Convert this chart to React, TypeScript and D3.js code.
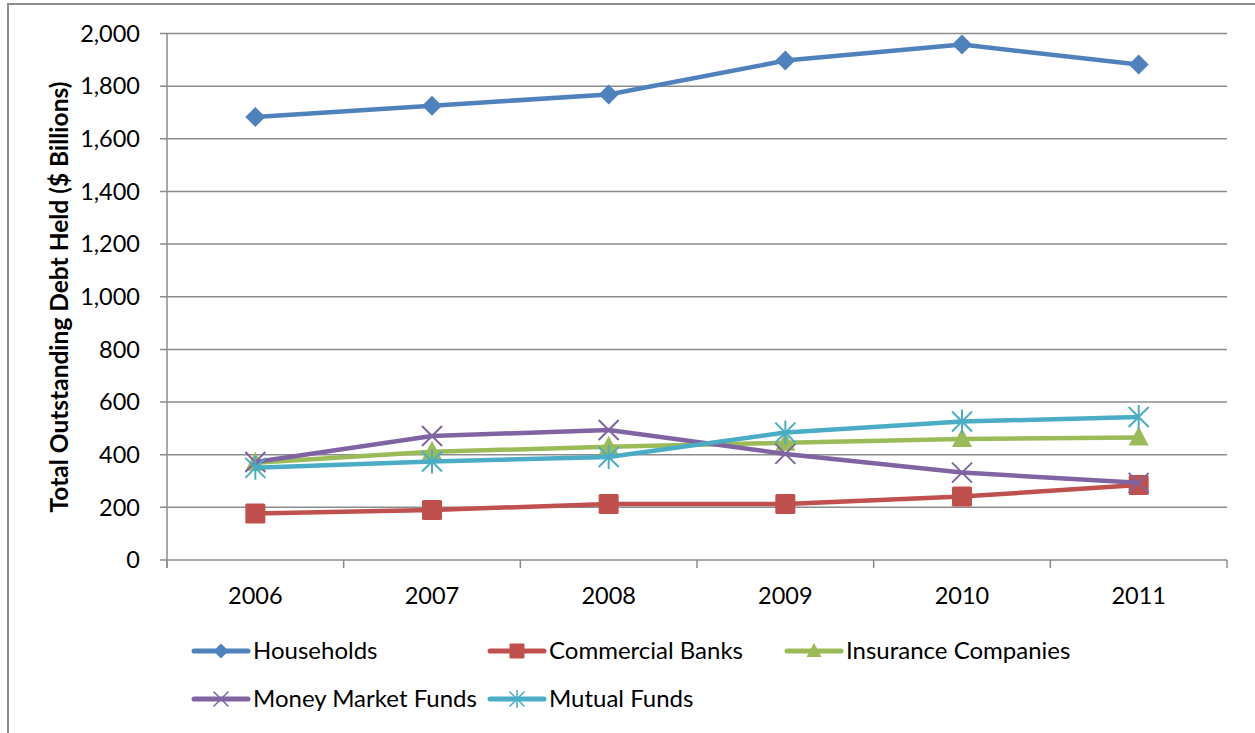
import * as d3 from "d3";
import React from "react";

const years = ["2006", "2007", "2008", "2009", "2010", "2011"];
const households = [1683, 1726, 1768, 1897, 1958, 1882];
const commercialBanks = [177, 190, 213, 213, 241, 285];
const insuranceCompanies = [369, 411, 430, 445, 460, 465];
const moneyMarketFunds = [372, 471, 494, 403, 332, 293];
const mutualFunds = [350, 374, 391, 484, 526, 543];
const yTicks = [0, 200, 400, 600, 800, 1000, 1200, 1400, 1600, 1800, 2000];

type Shape = "diamond" | "square" | "triangle" | "x" | "star";

const series: { name: string; values: number[]; color: string; shape: Shape }[] = [
  { name: "Households", values: households, color: "#4F81BD", shape: "diamond" },
  { name: "Commercial Banks", values: commercialBanks, color: "#C0504D", shape: "square" },
  { name: "Insurance Companies", values: insuranceCompanies, color: "#9BBB59", shape: "triangle" },
  { name: "Money Market Funds", values: moneyMarketFunds, color: "#8064A2", shape: "x" },
  { name: "Mutual Funds", values: mutualFunds, color: "#4BACC6", shape: "star" },
];

const FONT = "Lato, 'Open Sans', sans-serif";
const GRID = "#8c8c8c";

const Marker: React.FC<{ shape: Shape; color: string; x: number; y: number; s?: number }> = ({
  shape,
  color,
  x,
  y,
  s = 1,
}) => {
  const t = `translate(${x},${y}) scale(${s})`;
  if (shape === "diamond")
    return <path transform={t} d="M0,-10L10,0L0,10L-10,0Z" fill={color} />;
  if (shape === "square")
    return <rect transform={t} x={-10} y={-10} width={20} height={20} rx={1.5} fill={color} />;
  if (shape === "triangle")
    return <path transform={t} d="M0,-11L10,8L-10,8Z" fill={color} />;
  if (shape === "x")
    return (
      <path transform={t} d="M-10,-10L10,10M10,-10L-10,10" stroke={color} strokeWidth={2} fill="none" />
    );
  return (
    <path
      transform={t}
      d="M-10,-10L10,10M10,-10L-10,10M0,-12L0,12"
      stroke={color}
      strokeWidth={2}
      fill="none"
    />
  );
};

const App: React.FC = () => {
  const width = 1255;
  const height = 733;
  const left = 167;
  const right = 1227;
  const top = 33.5;
  const bottom = 560;

  const x = d3.scaleBand<string>().domain(years).range([left, right]);
  const y = d3.scaleLinear().domain([0, 2000]).range([bottom, top]);
  const cx = (d: string) => (x(d) ?? 0) + x.bandwidth() / 2;

  const line = d3
    .line<number>()
    .x((_, i) => cx(years[i]))
    .y((d) => y(d));

  const fmt = d3.format(",");
  const boundaries = years.map((d) => x(d) ?? 0).concat([right]);

  // legend: line start for each entry
  const legendPos = [
    { x: 194, y: 651 },
    { x: 490, y: 651 },
    { x: 787, y: 651 },
    { x: 194, y: 699 },
    { x: 490, y: 699 },
  ];

  return (
    <svg
      width={width}
      height={height}
      style={{ position: "absolute", left: 0, top: 0, background: "#fff" }}
      fontFamily={FONT}
    >
      {/* chart frame */}
      <path d={`M8,${height}V4H${width}`} stroke={GRID} strokeWidth={2} fill="none" />

      {/* gridlines and y ticks */}
      {yTicks.map((t) => (
        <g key={t}>
          <line x1={left - 7} x2={right} y1={y(t)} y2={y(t)} stroke={GRID} strokeWidth={1.5} />
          <text x={140} y={y(t)} dy="0.35em" textAnchor="end" fontSize={23.5} fill="#000">
            {fmt(t)}
          </text>
        </g>
      ))}

      {/* axes */}
      <line x1={left} x2={left} y1={top} y2={bottom + 8} stroke={GRID} strokeWidth={1.5} />
      {boundaries.map((b, i) => (
        <line key={i} x1={b} x2={b} y1={bottom} y2={bottom + 8} stroke={GRID} strokeWidth={1.5} />
      ))}
      {years.map((d) => (
        <text key={d} x={cx(d)} y={596} dy="0.35em" textAnchor="middle" fontSize={23.5} fill="#000">
          {d}
        </text>
      ))}

      <text
        transform="translate(59,297) rotate(-90)"
        textAnchor="middle"
        dy="0.35em"
        fontSize={24.5}
        fontWeight="bold"
        fill="#000"
      >
        Total Outstanding Debt Held ($ Billions)
      </text>

      {/* series */}
      {series.map((s) => (
        <g key={s.name}>
          <path d={line(s.values) ?? ""} stroke={s.color} strokeWidth={4.5} fill="none" strokeLinejoin="round" />
          {s.values.map((v, i) => (
            <Marker key={i} shape={s.shape} color={s.color} x={cx(years[i])} y={y(v)} />
          ))}
        </g>
      ))}

      {/* legend */}
      {series.map((s, i) => {
        const p = legendPos[i];
        return (
          <g key={s.name}>
            <line
              x1={p.x}
              x2={p.x + 54}
              y1={p.y}
              y2={p.y}
              stroke={s.color}
              strokeWidth={5}
              strokeLinecap="round"
            />
            <Marker shape={s.shape} color={s.color} x={p.x + 27} y={p.y} s={0.75} />
            <text x={p.x + 59} y={p.y} dy="0.35em" fontSize={24} fill="#000">
              {s.name}
            </text>
          </g>
        );
      })}
    </svg>
  );
};

export default App;
